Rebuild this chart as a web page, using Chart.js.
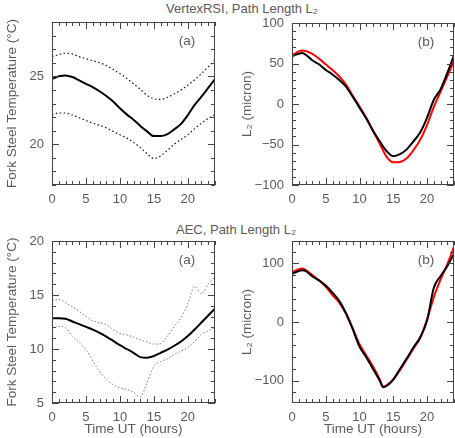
<!DOCTYPE html>
<html><head><meta charset="utf-8">
<script src="https://cdn.jsdelivr.net/npm/chart.js@4/dist/chart.umd.min.js"></script>
<style>
html,body{margin:0;padding:0;background:#fff;}
#wrap{position:relative;width:455px;height:438px;overflow:hidden;font-family:"Liberation Sans","DejaVu Sans",sans-serif;color:#5a5a5a;}
canvas{position:absolute;}
.ttl{position:absolute;font-size:13px;white-space:nowrap;transform:translate(-50%,-50%);line-height:1;}
</style></head><body>
<div id="wrap">
<div class="ttl" style="left:242px;top:8px">VertexRSI, Path Length L₂</div>
<div class="ttl" style="left:236px;top:229px">AEC, Path Length L₂</div>
<canvas id="c1" width="225" height="218" style="left:0;top:0"></canvas>
<canvas id="c2" width="230" height="218" style="left:225px;top:0"></canvas>
<canvas id="c3" width="225" height="220" style="left:0;top:218px"></canvas>
<canvas id="c4" width="230" height="220" style="left:225px;top:218px"></canvas>
</div>
<script>
// ---------- data ----------
const hours = [0,1,2,3,4,5,6,7,8,9,10,11,12,13,14,15,16,17,18,19,20,21,22,23,24];
const hoursVR = [0,1,1.5,2,3,4,5,6,7,8,9,10,11,12,13,14,15,16,17,18,19,20,21,22,23,24];
const hoursAEC = [0,1,1.5,2,3,4,5,6,7,8,9,10,11,12,13,13.5,14,15,16,17,18,19,20,21,22,23,24];

// VertexRSI fork steel temperature (°C)
const vrTempMean  = [24.8,25.0,25.07,24.95,24.7,24.45,24.2,23.9,23.55,23.15,22.65,22.2,21.8,21.35,20.95,20.6,20.6,20.75,21.1,21.5,22.15,22.9,23.5,24.15,24.8];
const vrTempUpper = [26.45,26.6,26.7,26.65,26.45,26.3,26.15,26.0,25.8,25.5,25.2,24.85,24.45,24.05,23.6,23.35,23.3,23.45,23.7,24.0,24.35,24.75,25.2,25.7,26.2];
const vrTempLower = [22.15,22.3,22.3,22.15,21.95,21.75,21.55,21.4,21.2,20.95,20.7,20.45,20.15,19.75,19.3,18.95,19.15,19.55,20.0,20.35,20.7,21.15,21.55,21.9,22.2];

// VertexRSI path length L2 (micron)
const vrL2Measured = [59,62,63,61,54,49,42,36.5,29.5,21.5,9,-4.5,-18,-33,-46,-58,-64.5,-62,-56,-46,-35,-17,5,18,38,60];
const vrL2Model    = [60,65,66,65.5,62,56,49,42,34,24,10,-3,-17,-33,-49,-65,-72,-71.5,-67,-57,-44,-26,-4,15,34,53];

// AEC fork steel temperature (°C)
const aecTempMean  = [12.85,12.85,12.8,12.55,12.3,12.05,11.8,11.5,11.15,10.75,10.35,10.0,9.65,9.25,9.2,9.35,9.65,9.95,10.3,10.7,11.2,11.8,12.45,13.1,13.75];
const aecTempUpper = [14.5,14.6,14.3,13.9,13.5,13.0,12.6,12.45,12.25,11.8,11.45,11.3,11.1,10.85,10.65,10.45,10.5,11.2,12.1,12.9,14.2,15.8,15.1,16.0,16.65];
const aecTempLower = [11.8,12.1,11.95,11.2,10.6,9.95,8.9,7.95,7.2,6.7,6.4,6.25,6.0,5.55,6.9,8.4,8.85,9.1,9.5,9.8,10.15,10.7,11.35,11.7,12.0];

// AEC path length L2 (micron)
const aecL2Measured = [82,87,88,87,78,71,62,50,36,15,-12,-42,-60,-80,-100,-111,-109,-98,-80,-62,-43,-26,2,58,78,95,116];
const aecL2Model    = [85,90,91,89,80,71,60,46,33,14,-11,-38,-57,-76,-98,-110,-108,-98,-82,-64,-45,-27,4,42,72,98,128];

// tick labels
const xTickLabels = [0,5,10,15,20];
const vrTempTicks = [20,25];
const vrL2Ticks = [-100,-50,0,50,100];
const aecTempTicks = [5,10,15,20];
const aecL2Ticks = [-100,0,100];

// ---------- helpers ----------
const pts = (xs, ys) => xs.map((x, i) => ({x, y: ys[i]}));
const TXT = '#5a5a5a';
const FAM = '"Liberation Sans","DejaVu Sans",sans-serif';
const TICKFONT = {family: FAM, size: 13};
const TITLEFONT = {family: FAM, size: 13.5};

const innerTicks = {
  id: 'innerTicks',
  afterDatasetsDraw(chart, args, o) {
    const {ctx, chartArea: a, scales: {x, y}} = chart;
    const isMaj = (v, m) => Math.abs(v / m - Math.round(v / m)) < 1e-6;
    ctx.save();
    ctx.strokeStyle = o.color; ctx.lineWidth = 1;
    ctx.beginPath();
    for (let v = Math.ceil(x.min / o.xMinor - 1e-9) * o.xMinor; v <= x.max + 1e-9; v += o.xMinor) {
      const px = Math.round(x.getPixelForValue(v)) + 0.5;
      const len = isMaj(v, o.xMajor) ? o.major : o.minor;
      ctx.moveTo(px, a.bottom); ctx.lineTo(px, a.bottom - len);
      ctx.moveTo(px, a.top); ctx.lineTo(px, a.top + len);
    }
    for (let v = Math.ceil(y.min / o.yMinor - 1e-9) * o.yMinor; v <= y.max + 1e-9; v += o.yMinor) {
      const py = Math.round(y.getPixelForValue(v)) + 0.5;
      const len = isMaj(v, o.yMajor) ? o.major : o.minor;
      ctx.moveTo(a.left, py); ctx.lineTo(a.left + len, py);
      ctx.moveTo(a.right, py); ctx.lineTo(a.right - len, py);
    }
    ctx.stroke();
    ctx.strokeRect(a.left + 0.5, a.top + 0.5, a.right - a.left - 1, a.bottom - a.top - 1);
    ctx.restore();
  }
};

const panelTag = {
  id: 'panelTag',
  afterDraw(chart, args, o) {
    const {ctx, chartArea: a} = chart;
    ctx.save();
    ctx.fillStyle = TXT;
    ctx.font = TITLEFONT.size + 'px ' + FAM;
    ctx.textAlign = 'center'; ctx.textBaseline = 'middle';
    ctx.fillText(o.text, a.right - 28, a.top + 19);
    ctx.restore();
  }
};

function panel(id, c) {
  return new Chart(document.getElementById(id), {
    type: 'line',
    data: {datasets: c.datasets},
    options: {
      responsive: false, animation: false,
      layout: {padding: c.pad},
      elements: {point: {radius: 0}, line: {tension: 0.3, cubicInterpolationMode: 'monotone'}},
      plugins: {
        legend: {display: false}, tooltip: {enabled: false},
        innerTicks: Object.assign({color: '#444', major: 7, minor: 4, xMinor: 1, xMajor: 5}, c.ticks),
        panelTag: {text: c.tag}
      },
      scales: {
        x: {
          type: 'linear', min: 0, max: 24,
          grid: {display: false, drawTicks: false}, border: {display: false},
          afterBuildTicks: s => { s.ticks = xTickLabels.map(v => ({value: v})); },
          afterFit: s => { s.height = c.xh; },
          ticks: {padding: 7, color: TXT, font: TICKFONT, maxRotation: 0, autoSkip: false},
          title: {display: !!c.xTitle, text: 'Time UT (hours)', color: TXT, font: TITLEFONT, padding: {top: 0, bottom: 1}}
        },
        y: {
          type: 'linear', min: c.ymin, max: c.ymax,
          grid: {display: false, drawTicks: false}, border: {display: false},
          afterBuildTicks: s => { s.ticks = c.yTicks.map(v => ({value: v})); },
          afterFit: s => { s.width = c.yw; },
          ticks: {padding: 8, color: TXT, font: TICKFONT, autoSkip: false,
                  callback: v => String(v).replace('-', '\u2212')},
          title: {display: true, text: c.yTitle, color: TXT, font: TITLEFONT, padding: {top: 0, bottom: 0}}
        }
      }
    },
    plugins: [innerTicks, panelTag]
  });
}

const solid = (data, color) => ({data, borderColor: color, borderWidth: 2, fill: false});
const dotted = (data, color, w, dash) => ({data, borderColor: color, borderWidth: w, borderDash: dash, fill: false});

panel('c1', {
  datasets: [
    dotted(pts(hours, vrTempUpper), '#111', 1.2, [1.5, 2.5]),
    dotted(pts(hours, vrTempLower), '#111', 1.2, [1.5, 2.5]),
    solid(pts(hours, vrTempMean), '#000')
  ],
  pad: {left: 4, right: 10, top: 22, bottom: 0}, yw: 48, xh: 33,
  ymin: 17, ymax: 29, yTicks: vrTempTicks, ticks: {yMinor: 1, yMajor: 5},
  yTitle: 'Fork Steel Temperature (°C)', tag: '(a)', xTitle: false
});
panel('c2', {
  datasets: [
    solid(pts(hoursVR, vrL2Measured), '#000'),
    solid(pts(hoursVR, vrL2Model), '#ff0000')
  ],
  pad: {left: 14, right: 1, top: 23, bottom: 0}, yw: 53, xh: 33,
  ymin: -100, ymax: 100, yTicks: vrL2Ticks, ticks: {yMinor: 10, yMajor: 50},
  yTitle: 'L₂ (micron)', tag: '(b)', xTitle: false
});
panel('c3', {
  datasets: [
    dotted(pts(hours, aecTempUpper), '#777', 1, [1.5, 2]),
    dotted(pts(hours, aecTempLower), '#777', 1, [1.5, 2]),
    solid(pts(hours, aecTempMean), '#000')
  ],
  pad: {left: 4, right: 10, top: 23, bottom: 0}, yw: 48, xh: 35,
  ymin: 5, ymax: 20, yTicks: aecTempTicks, ticks: {yMinor: 1, yMajor: 5},
  yTitle: 'Fork Steel Temperature (°C)', tag: '(a)', xTitle: true
});
panel('c4', {
  datasets: [
    solid(pts(hoursAEC, aecL2Measured), '#000'),
    solid(pts(hoursAEC, aecL2Model), '#ff0000')
  ],
  pad: {left: 14, right: 1, top: 23, bottom: 0}, yw: 53, xh: 35,
  ymin: -138, ymax: 138, yTicks: aecL2Ticks, ticks: {yMinor: 20, yMajor: 100},
  yTitle: 'L₂ (micron)', tag: '(b)', xTitle: true
});
</script>
</body></html>
